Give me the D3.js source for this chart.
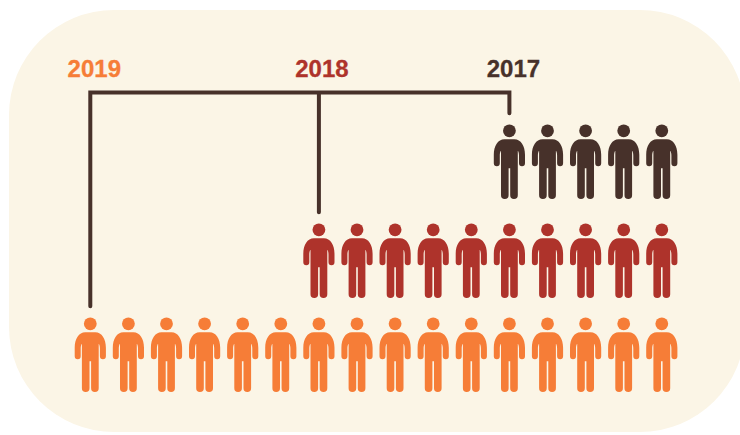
<!DOCTYPE html>
<html>
<head>
<meta charset="utf-8">
<script src="https://cdn.jsdelivr.net/npm/d3@7"></script>
<style>
  html, body { margin: 0; padding: 0; background: #fff; }
  svg { display: block; }
  text { font-family: "Liberation Sans", Arial, sans-serif; font-weight: bold; font-size: 24px; }
</style>
</head>
<body>
<div id="chart"></div>
<script>
var years = ["2019", "2018", "2017"]
var counts = [16, 10, 5]
var colors = ["#f67d37", "#ae332b", "#47312a"]

var width = 740
var height = 435

var svg = d3.select("#chart")
    .append("svg")
    .attr("width", width)
    .attr("height", height)

// panel runs off the right edge
svg.append("rect")
    .attr("x", 9)
    .attr("y", 10)
    .attr("width", 736)
    .attr("height", 422)
    .attr("rx", 105)
    .attr("ry", 105)
    .attr("fill", "#fbf5e6")

// 16 slots across, every row is right aligned
var xScale = d3.scalePoint()
    .domain(d3.range(d3.max(counts)))
    .range([90.3, 661.8])

var yScale = d3.scaleOrdinal()
    .domain(years)
    .range([323.8, 229.8, 130.8])

var colorScale = d3.scaleOrdinal().domain(years).range(colors)

// one person, origin at the centre of the head
var personBody = "M-5,8.4 H5 C11.5,8.4 15.6,15 15.6,24 V32.5 A3,3 0 0 1 9.6,32.5 V25 C9.6,22.5 9.2,21 8.4,20" +
    " V64.5 A3.8,3.8 0 0 1 0.8,64.5 V37.5 H-0.8 V64.5 A3.8,3.8 0 0 1 -8.4,64.5 V20" +
    " C-9.2,21 -9.6,22.5 -9.6,25 V32.5 A3,3 0 0 1 -15.6,32.5 V24 C-15.6,15 -11.5,8.4 -5,8.4 Z"

var rows = years.map((y, i) => ({ year: y, count: counts[i] }))

var people = rows.flatMap(r => d3.range(r.count).map(k => ({
    year: r.year,
    slot: d3.max(counts) - r.count + k
})))

var personGroup = svg.selectAll(".person")
    .data(people)
    .enter()
    .append("g")
    .attr("class", "person")
    .attr("fill", d => colorScale(d.year))
    .attr("transform", d => "translate(" + xScale(d.slot) + "," + yScale(d.year) + ")")

personGroup.append("circle").attr("r", 6.4)
personGroup.append("path").attr("d", personBody)

// bracket joining the three years
var barY = 92.5
var firstSlot = d => d3.max(counts) - counts[years.indexOf(d)]
var dropGap = d => yScale(d) - 17.5

var bracket = d3.path()
bracket.moveTo(xScale(firstSlot("2019")), dropGap("2019"))
bracket.lineTo(xScale(firstSlot("2019")), barY)
bracket.lineTo(xScale(firstSlot("2017")), barY)
bracket.lineTo(xScale(firstSlot("2017")), dropGap("2017"))
bracket.moveTo(xScale(firstSlot("2018")), barY)
bracket.lineTo(xScale(firstSlot("2018")), dropGap("2018"))

svg.append("path")
    .attr("d", bracket.toString())
    .attr("fill", "none")
    .attr("stroke", "#47312a")
    .attr("stroke-width", 4)
    .attr("stroke-linecap", "round")
    .attr("stroke-linejoin", "miter")

// year labels
svg.selectAll(".year")
    .data(years)
    .enter()
    .append("text")
    .attr("class", "year")
    .attr("x", d => xScale(firstSlot(d)) + (d === "2018" ? 3 : 4))
    .attr("y", 77)
    .attr("text-anchor", "middle")
    .attr("fill", d => colorScale(d))
    .attr("stroke", d => colorScale(d))
    .attr("stroke-width", 0.3)
    .text(d => d)
</script>
</body>
</html>
